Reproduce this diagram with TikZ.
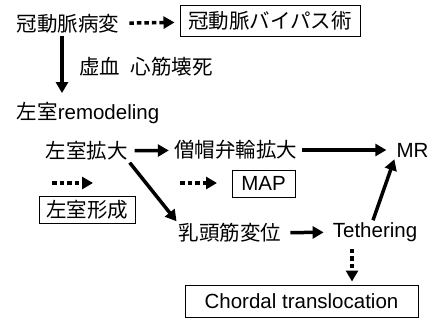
\documentclass[tikz,border=0pt]{standalone}
\usepackage{fontspec}
\setmainfont{Liberation Sans}
\newfontfamily\jp{Noto Sans CJK JP}
\usepackage{tikz}
\usetikzlibrary{arrows.meta,positioning}

\begin{document}
\begin{tikzpicture}[x=1bp, y=-1bp,
  every node/.style={inner sep=2bp, font=\fontsize{20.5bp}{24bp}\selectfont},
  jlabel/.style={font=\fontsize{20.5bp}{24bp}\selectfont\jp},
  boxed/.style={draw, line width=1bp, inner sep=0pt},
  arr/.style={line width=3.5bp, -{Triangle[length=11bp,width=12bp]}},
  dotarr/.style={line width=3.5bp, dash pattern=on 4.5bp off 3bp, -{Triangle[length=11bp,width=12bp]}}]
\useasboundingbox (0,0) rectangle (433,322);

% top row
\node[jlabel] (lesion) at (68,24) {冠動脈病変};
\node[jlabel, boxed, minimum width=180bp, minimum height=31bp] (cabg) at (270,21) {冠動脈バイパス術};
\draw[dotarr, shorten <=8bp, shorten >=5bp] (lesion) -- (cabg);

% down to remodeling
\node (remodel) at (88,113) {{\jp 左室}remodeling};
\draw[arr, shorten >=7bp] ([xshift=-6bp]lesion.south) -- ([xshift=-6bp]lesion.south |- remodel.north);
\node[jlabel] (ischemia) at (146,67) {虚血\hspace{0.5em}心筋壊死};

% left ventricle dilatation
\node[jlabel] (lvdil) at (86.5,151) {左室拡大};
\node[jlabel] (mvring) at (235.5,150) {僧帽弁輪拡大};
\node (mr) at (412.5,150) {MR};
\draw[arr, shorten <=5bp, shorten >=3bp] (lvdil) -- (mvring);
\draw[arr, shorten <=3bp, shorten >=8bp] (mvring) -- (mr);

% surgical options
\coordinate (d1s) at (52,183);
\coordinate (d1e) at (93,183);
\draw[dotarr] (d1s) -- (d1e);
\node[jlabel, boxed, minimum width=96bp, minimum height=27bp] (lvform) at (87,209.5) {左室形成};
\coordinate (d2s) at (180,183);
\coordinate (d2e) at (217,183);
\draw[dotarr] (d2s) -- (d2e);
\node[boxed, minimum width=63bp, minimum height=27bp] (map) at (263.5,183.5) {MAP};

% papillary muscle and tethering
\node[jlabel] (pap) at (230,233) {乳頭筋変位};
\node (teth) at (375,232) {Tethering};
\draw[arr] (lvdil.south east) -- (pap.north west);
\draw[arr, shorten <=7bp, shorten >=7bp] (pap) -- (teth);
\draw[arr] ([xshift=-2bp]teth.north) -- (mr.south west);

\node[boxed, minimum width=233bp, minimum height=32bp] (chordal) at (301.5,301) {Chordal translocation};
\draw[dotarr, shorten <=5bp, shorten >=3bp] ([xshift=-23bp]teth.south) -- ([xshift=-23bp]teth.south |- chordal.north);
\end{tikzpicture}
\end{document}
